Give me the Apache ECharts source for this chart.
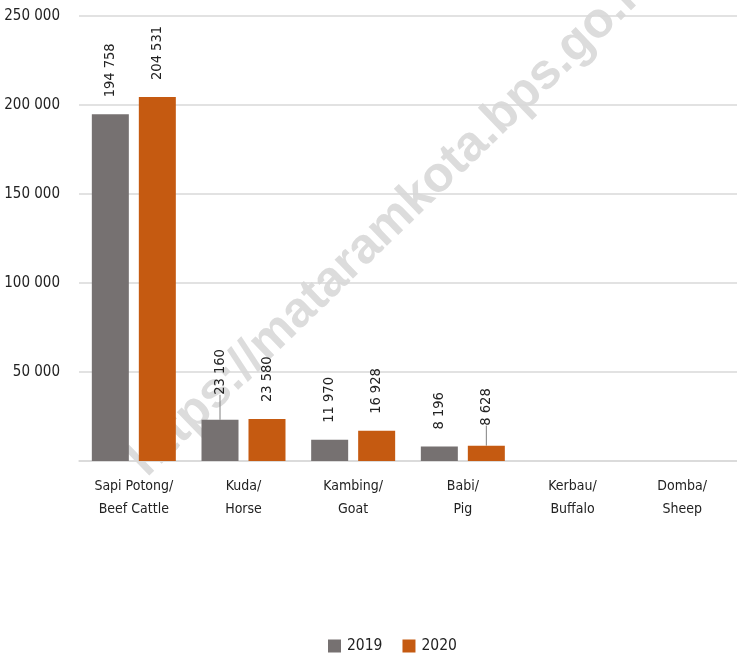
<!DOCTYPE html>
<html>
<head>
<meta charset="utf-8">
<script src="https://cdn.jsdelivr.net/npm/echarts@6/dist/echarts.min.js"></script>
<style>html,body{margin:0;padding:0;background:#fff}#c{width:737px;height:655px}</style>
</head>
<body>
<div id="c"></div>
<script>
const categories = ['Sapi Potong/\nBeef Cattle', 'Kuda/\nHorse', 'Kambing/\nGoat', 'Babi/\nPig', 'Kerbau/\nBuffalo', 'Domba/\nSheep'];
const values2019 = [194758, 23160, 11970, 8196, null, null];
const values2020 = [204531, 23580, 16928, 8628, null, null];
const seriesNames = ['2019', '2020'];
const yTicks = { min: 0, max: 250000, interval: 50000 };
const watermark = 'https://mataramkota.bps.go.id';

const FONT = '"DejaVu Sans Condensed", "Liberation Sans Narrow", sans-serif';
const fmt = v => String(v).replace(/\B(?=(\d{3})+(?!\d))/g, ' ');

function buildData(vals, leaders) {
  return vals.map((v, i) => {
    if (leaders[i]) {
      return { value: v, label: { distance: leaders[i] }, labelLine: { show: true, lineStyle: { color: '#808080', width: 1 } } };
    }
    return v;
  });
}

const labelCfg = {
  show: true, position: 'top', distance: 17, rotate: 90, align: 'left', verticalAlign: 'middle',
  fontFamily: FONT, fontSize: 14.5, color: '#222',
  formatter: p => (p.value == null ? '' : fmt(p.value))
};

const chart = echarts.init(document.getElementById('c'), null, { renderer: 'canvas' });
chart.setOption({
  animation: false,
  graphic: [{
    type: 'text', x: 394, y: 220, rotation: 44 * Math.PI / 180, z: -10, silent: true,
    style: { text: watermark, font: 'bold 50px "Liberation Sans", Arial, sans-serif', fill: '#dcdcdc', textAlign: 'center', textVerticalAlign: 'middle' }
  }],
  grid: { left: 79, right: 0, top: 16, bottom: 194, containLabel: false, outerBoundsMode: 'none' },
  legend: {
    data: seriesNames, top: 633, left: 323, itemWidth: 13, itemHeight: 13, itemGap: 20,
    icon: 'rect', textStyle: { fontFamily: FONT, fontSize: 15.5, color: '#222', padding: [0, 0, 0, 1] }
  },
  xAxis: {
    type: 'category', data: categories,
    axisLine: { show: true, lineStyle: { color: '#d9d9d9', width: 1.5 } },
    axisTick: { show: false },
    axisLabel: { interval: 0, margin: 14, fontFamily: FONT, fontSize: 14, color: '#222', lineHeight: 23 }
  },
  yAxis: {
    type: 'value', min: yTicks.min, max: yTicks.max, interval: yTicks.interval,
    axisLine: { show: false }, axisTick: { show: false },
    splitLine: { lineStyle: { color: '#d9d9d9', width: 1.5 } },
    axisLabel: { showMinLabel: false, margin: 19, fontFamily: FONT, fontSize: 15, color: '#222', formatter: v => fmt(v) }
  },
  series: [
    { name: seriesNames[0], type: 'bar', data: buildData(values2019, { 1: 25 }), barWidth: 37, barGap: '27%',
      itemStyle: { color: '#767171' }, label: labelCfg },
    { name: seriesNames[1], type: 'bar', data: buildData(values2020, { 3: 20 }), barWidth: 37, barGap: '27%',
      itemStyle: { color: '#C55A11' }, label: labelCfg }
  ]
});
</script>
</body>
</html>
